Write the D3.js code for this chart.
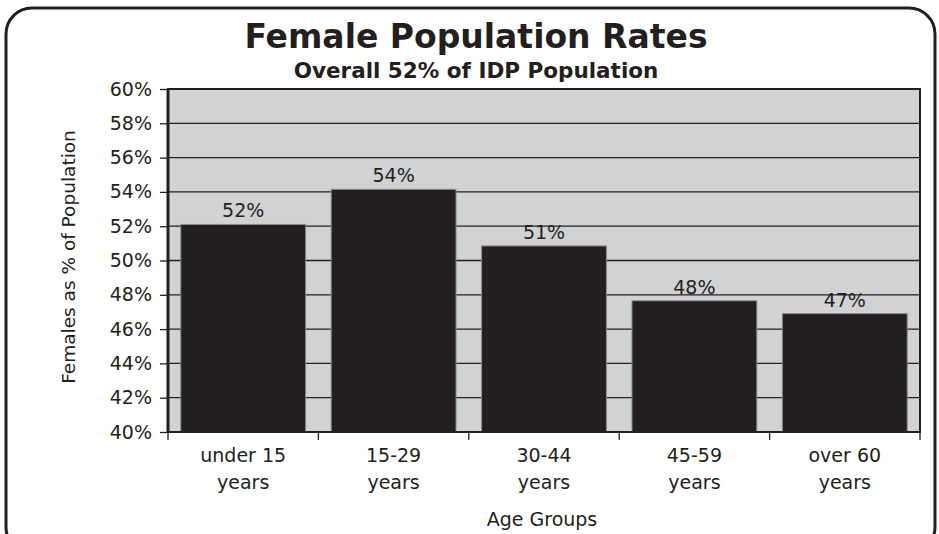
<!DOCTYPE html>
<html>
<head>
<meta charset="utf-8">
<script src="https://cdn.jsdelivr.net/npm/d3@7"></script>
<style>
  body { margin: 0; background: #fff; }
  text { font-family: "DejaVu Sans", Verdana, sans-serif; fill: #231f20; }
</style>
</head>
<body>
<svg id="chart" width="939" height="534"></svg>
<script>
// data
const categories = ["under 15 years", "15-29 years", "30-44 years", "45-59 years", "over 60 years"];
const values = [52.1, 54.15, 50.85, 47.65, 46.9];
const yTicks = [40, 42, 44, 46, 48, 50, 52, 54, 56, 58, 60];
const title = "Female Population Rates";
const subtitle = "Overall 52% of IDP Population";
const yTitle = "Females as % of Population";
const xTitle = "Age Groups";

const ink = "#231f20";
const margin = { top: 89, right: 19, bottom: 102, left: 168 },
  width = 939,
  height = 534,
  innerWidth = width - margin.left - margin.right,
  innerHeight = height - margin.top - margin.bottom;

const svg = d3.select("#chart");

// outer rounded frame
svg.append("rect")
  .attr("x", 6).attr("y", 8)
  .attr("width", 929).attr("height", 545)
  .attr("rx", 26).attr("ry", 26)
  .attr("fill", "none").attr("stroke", ink).attr("stroke-width", 3);

svg.append("text").text(title)
  .attr("x", 476).attr("y", 48)
  .attr("text-anchor", "middle")
  .style("font-size", "33px").style("font-weight", "bold");

svg.append("text").text(subtitle)
  .attr("x", 476).attr("y", 78)
  .attr("text-anchor", "middle")
  .style("font-size", "21.5px").style("font-weight", "bold");

const g = svg.append("g").attr("transform", `translate(${margin.left},${margin.top})`);

const x = d3.scaleBand().domain(categories).range([0, innerWidth]).paddingInner(0.17).paddingOuter(0.085);
const y = d3.scaleLinear().domain([40, 60]).range([innerHeight, 0]);

// plot background
g.append("rect").attr("width", innerWidth).attr("height", innerHeight).attr("fill", "#d1d2d4");

// gridlines
g.selectAll(".grid").data(yTicks).join("line")
  .attr("class", "grid")
  .attr("x1", 0).attr("x2", innerWidth)
  .attr("y1", d => y(d)).attr("y2", d => y(d))
  .attr("stroke", ink).attr("stroke-width", 1.3);

// plot frame
g.append("rect").attr("width", innerWidth).attr("height", innerHeight)
  .attr("fill", "none").attr("stroke", ink).attr("stroke-width", 2);

// bars
g.selectAll(".bar").data(values).join("rect")
  .attr("class", "bar")
  .attr("x", (d, i) => x(categories[i]))
  .attr("y", d => y(d))
  .attr("width", x.bandwidth())
  .attr("height", d => innerHeight - y(d))
  .attr("fill", ink).attr("stroke", "#8a8a8a").attr("stroke-width", 1);

// value labels
g.selectAll(".lbl").data(values).join("text")
  .attr("class", "lbl")
  .attr("x", (d, i) => x(categories[i]) + x.bandwidth() / 2)
  .attr("y", d => y(d) - 7)
  .attr("text-anchor", "middle")
  .style("font-size", "19px")
  .text(d => Math.round(d) + "%");

// y axis
const yAxis = g.append("g")
  .call(d3.axisLeft(y).tickValues(yTicks).tickSize(8).tickPadding(8).tickFormat(d => d + "%"));
yAxis.select(".domain").remove();
yAxis.selectAll(".tick line").attr("stroke", ink).attr("stroke-width", 1.3);
yAxis.selectAll("text").style("font-size", "19px").style("font-family", "DejaVu Sans").attr("fill", ink);

g.append("line").attr("x1", 0).attr("x2", 0).attr("y1", 0).attr("y2", innerHeight)
  .attr("stroke", ink).attr("stroke-width", 3);

// x axis line + ticks at band edges
g.append("line").attr("x1", 0).attr("x2", innerWidth).attr("y1", innerHeight).attr("y2", innerHeight)
  .attr("stroke", ink).attr("stroke-width", 2);
const edges = categories.map(c => x(c) - x.step() * x.paddingInner() / 2).concat([innerWidth]);
g.selectAll(".xtick").data(edges).join("line")
  .attr("class", "xtick")
  .attr("x1", d => d).attr("x2", d => d)
  .attr("y1", innerHeight).attr("y2", innerHeight + 8)
  .attr("stroke", ink).attr("stroke-width", 1.3);

// category labels, two lines each
g.selectAll(".cat").data(categories).join("text")
  .attr("class", "cat")
  .attr("x", d => x(d) + x.bandwidth() / 2)
  .attr("y", innerHeight + 30)
  .attr("text-anchor", "middle")
  .style("font-size", "19px")
  .each(function (d) {
    const parts = d.split(" ");
    const first = parts.slice(0, -1).join(" ");
    const last = parts[parts.length - 1];
    const t = d3.select(this);
    t.append("tspan").attr("x", x(d) + x.bandwidth() / 2).text(first);
    t.append("tspan").attr("x", x(d) + x.bandwidth() / 2).attr("dy", 27).text(last);
  });

// axis titles
svg.append("text").text(xTitle)
  .attr("x", 542).attr("y", 526)
  .attr("text-anchor", "middle")
  .style("font-size", "19px");

svg.append("text").text(yTitle)
  .attr("transform", "translate(75,257) rotate(-90)")
  .attr("text-anchor", "middle")
  .style("font-size", "18.5px");
</script>
</body>
</html>
